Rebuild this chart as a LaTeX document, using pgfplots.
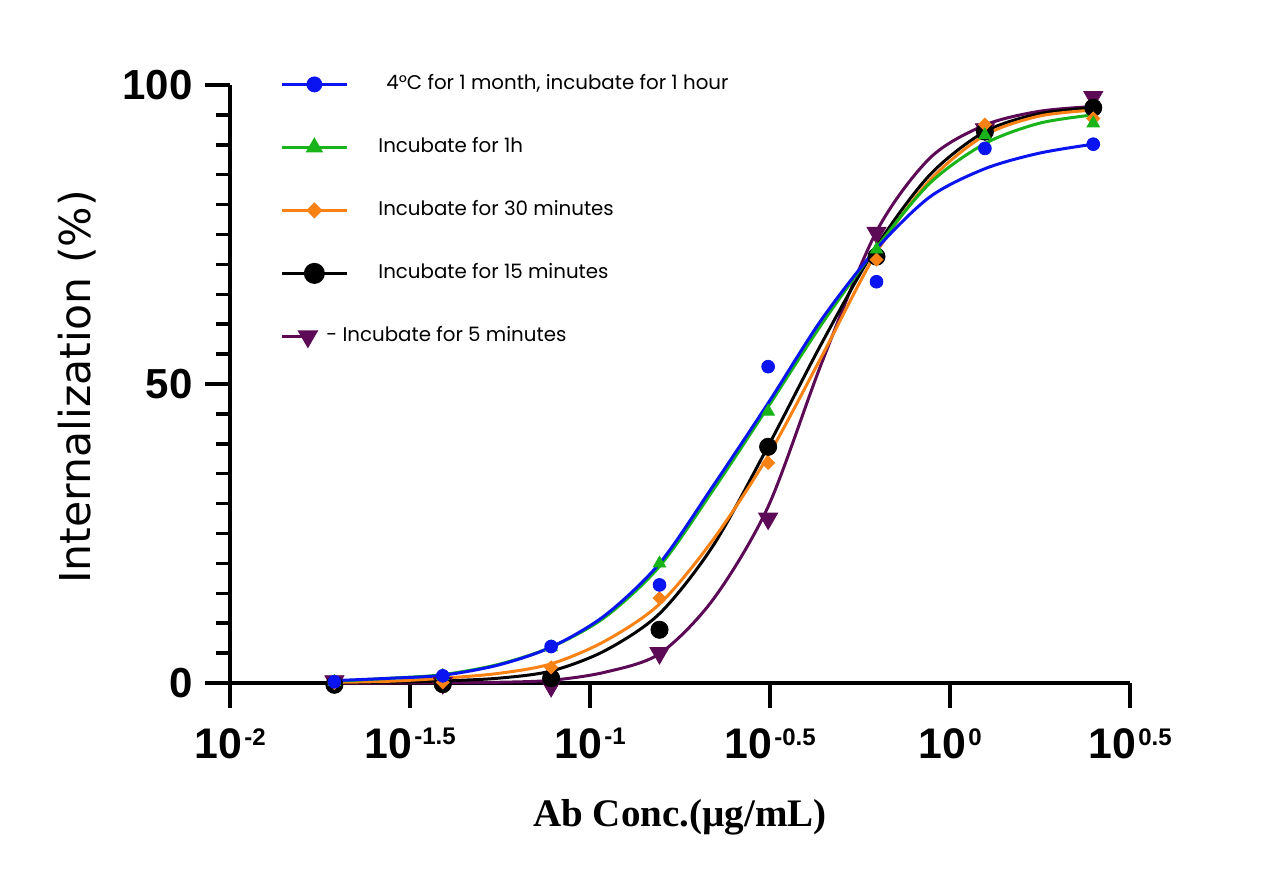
\documentclass[border=0pt]{standalone}
\usepackage{fontspec}
\setmainfont{Liberation Sans}
\newfontfamily\tickfont{Liberation Sans}
\newfontfamily\serifbold{Liberation Serif}
\newfontfamily\legfont{Poppins}
\newfontfamily\ylabfont{DejaVu Sans}
\usepackage{pgfplots}
\pgfplotsset{compat=1.18}
\definecolor{cblue}{RGB}{10,20,240}
\definecolor{cgreen}{RGB}{25,180,25}
\definecolor{corange}{RGB}{250,130,20}
\definecolor{cpurple}{RGB}{92,10,85}
\newcommand{\sx}[1]{\hspace{1.2bp}\raisebox{6.7bp}{\fontsize{12bp}{12bp}\selectfont #1}}
\pgfplotsset{
  legline/.style={legend image code/.code={\draw[mark repeat=2,mark phase=2,##1] plot coordinates {(0bp,0bp) (16.25bp,0bp) (32.5bp,0bp)};}},
  leglineshort/.style={legend image code/.code={\draw[mark repeat=2,mark phase=2,##1] plot coordinates {(0bp,0bp) (13bp,0bp)}; \path (32.5bp,0bp);}},
}
\begin{document}
\begin{tikzpicture}
\useasboundingbox (-115bp,-97.5bp) rectangle (521bp,341.5bp);
\begin{axis}[
  scale only axis, width=450bp, height=299bp,
  xmode=log, xmin=0.01, xmax=3.16228, ymin=0, ymax=100,
  enlargelimits=false, clip=false,
  axis lines=left,
  axis line style={-, line width=1.75bp},
  every tick/.style={black, line width=1.75bp},
  tick align=outside,
  major tick length=12.5bp, minor tick length=7bp,
  xtick={0.01,0.0316228,0.1,0.316228,1,3.16228},
  xticklabels={10\sx{-2},10\sx{-1.5},10\sx{-1},10\sx{-0.5},10\sx{0},10\sx{0.5}},
  minor x tick num=0,
  ytick={0,50,100}, yticklabels={0,50,100},
  minor y tick num=9,
  xticklabel style={font=\tickfont\bfseries\fontsize{21.4bp}{25bp}\selectfont, inner sep=0pt, anchor=north, yshift=-10bp},
  yticklabel style={font=\tickfont\bfseries\fontsize{21bp}{25bp}\selectfont, inner sep=0pt, anchor=east, xshift=-6bp},
  xlabel={Ab Conc.(µg/mL)},
  xlabel style={font=\serifbold\bfseries\fontsize{19.5bp}{22bp}\selectfont, at={(axis description cs:0.5,0)}, anchor=base, yshift=-71.5bp},
  ylabel={Internalization (\%)},
  ylabel style={font=\ylabfont\fontsize{21.3bp}{24bp}\selectfont, at={(axis description cs:-0.17,0.495)}, anchor=center},
  legend style={at={(0,1)}, anchor=north west, xshift=25bp, yshift=6bp, draw=none, fill=none,
    inner sep=0pt, column sep=15bp, row sep=20.5bp,
    nodes={inner sep=0pt, text height=8bp, text depth=3bp},
    font=\legfont\fontsize{9.9bp}{12bp}\selectfont},
  legend cell align=left,
]
% ---- fitted curves ----
\addplot[cpurple, line width=1.5bp, smooth, forget plot] table {
x y
0.0195 0.0
0.028 0.0
0.039 0.05
0.0556 0.12
0.078 0.45
0.11 1.8
0.156 4.9
0.22 14.0
0.3125 29.5
0.44 53.5
0.625 75.5
0.88 87.8
1.25 93.3
1.77 95.6
2.5 96.4
};
\addplot[black, line width=1.5bp, smooth, forget plot] table {
x y
0.0195 0.05
0.028 0.15
0.039 0.35
0.0556 0.8
0.078 2.0
0.11 5.4
0.156 11.6
0.22 23.0
0.3125 39.6
0.44 56.8
0.625 73.0
0.88 85.0
1.25 92.2
1.77 95.2
2.5 96.2
};
\addplot[corange, line width=1.5bp, smooth, forget plot] table {
x y
0.0195 0.1
0.028 0.3
0.039 0.8
0.0556 1.6
0.078 3.2
0.11 7.0
0.156 13.2
0.22 24.0
0.3125 38.0
0.44 54.6
0.625 72.0
0.88 84.1
1.25 91.6
1.77 94.8
2.5 95.8
};
\addplot[cgreen, line width=1.5bp, smooth, forget plot] table {
x y
0.0195 0.3
0.028 0.8
0.039 1.4
0.0556 3.1
0.078 6.0
0.11 11.0
0.156 19.5
0.22 32.3
0.3125 46.2
0.44 60.0
0.625 72.8
0.88 83.6
1.25 90.2
1.77 93.6
2.5 95.0
};
\addplot[cblue, line width=1.5bp, smooth, forget plot] table {
x y
0.0195 0.4
0.028 0.8
0.039 1.3
0.0556 3.0
0.078 6.0
0.11 11.3
0.156 20.0
0.22 33.0
0.3125 46.8
0.44 60.8
0.625 72.6
0.88 81.3
1.25 86.0
1.77 88.6
2.5 90.1
};
% ---- data points ----
\addplot[only marks, mark=triangle*, mark options={rotate=180}, mark size=5.5bp, cpurple, forget plot] table {
x y
0.0195 0.3
0.039 0.0
0.078 -0.5
0.156 5.0
0.3125 27.5
0.625 75.3
1.25 92.6
2.5 98.0
};
\addplot[only marks, mark=*, mark size=4.3bp, black, forget plot] table {
x y
0.0195 -0.3
0.039 -0.2
0.078 0.8
0.156 8.9
0.3125 39.5
0.625 71.3
1.25 92.2
2.5 96.2
};
\addplot[only marks, mark=square*, mark options={rotate=45}, mark size=2.3bp, corange, forget plot] table {
x y
0.0195 0.0
0.039 0.1
0.078 2.6
0.156 14.2
0.3125 36.8
0.625 70.8
1.25 93.4
2.5 94.4
};
\addplot[only marks, mark=triangle*, mark size=3.6bp, cgreen, forget plot] table {
x y
0.0195 0.2
0.039 1.2
0.078 6.0
0.156 20.0
0.3125 45.4
0.625 72.5
1.25 91.6
2.5 93.6
};
\addplot[only marks, mark=*, mark size=3.2bp, cblue, forget plot] table {
x y
0.0195 0.2
0.039 1.2
0.078 6.1
0.156 16.4
0.3125 52.9
0.625 67.1
1.25 89.4
2.5 90.1
};
% ---- legend ----
\addlegendimage{legline, cblue, line width=1.5bp, mark=*, mark size=3.2bp}
\addlegendentry{\hspace*{4bp}4°C for 1 month, incubate for 1 hour}
\addlegendimage{legline, cgreen, line width=1.5bp, mark=triangle*, mark size=3.6bp}
\addlegendentry{Incubate for 1h}
\addlegendimage{legline, corange, line width=1.5bp, mark=square*, mark options={rotate=45}, mark size=2.1bp}
\addlegendentry{Incubate for 30 minutes}
\addlegendimage{legline, black, line width=1.5bp, mark=*, mark size=4.5bp}
\addlegendentry{Incubate for 15 minutes}
\addlegendimage{leglineshort, cpurple, line width=1.5bp, mark=triangle*, mark options={rotate=180}, mark size=4.5bp}
\addlegendentry{\hspace*{-26bp}- Incubate for 5 minutes}
\end{axis}
\end{tikzpicture}
\end{document}
